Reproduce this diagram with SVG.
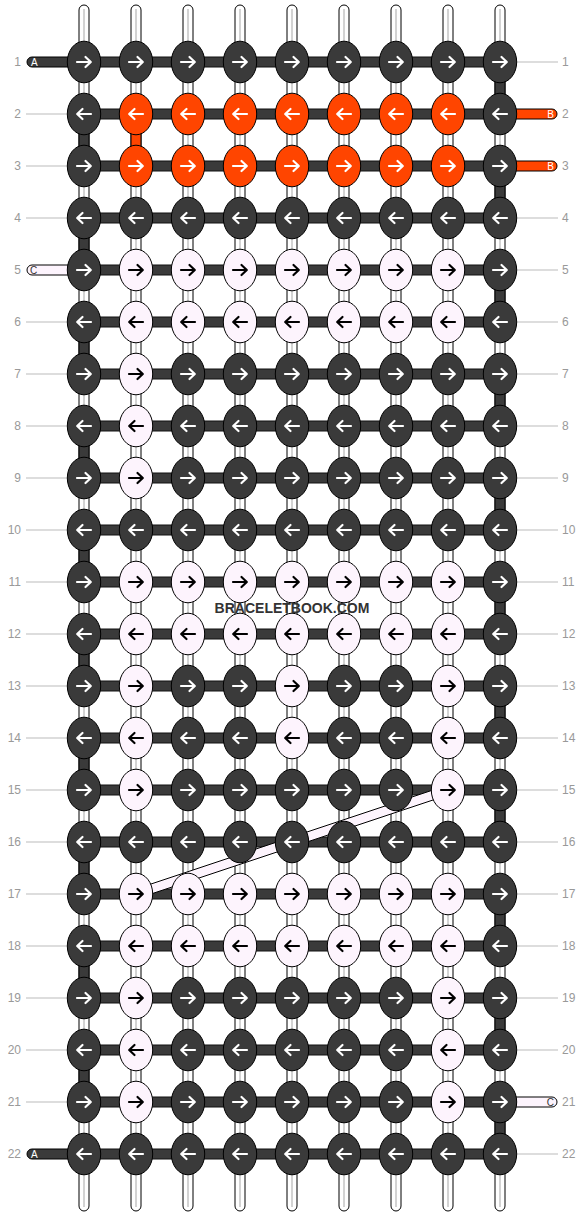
<svg xmlns="http://www.w3.org/2000/svg" xmlns:xlink="http://www.w3.org/1999/xlink" width="584" height="1216" viewBox="0 0 584 1216">
<style>
.vs{fill:#fff;stroke:#000;stroke-width:1}
.vc{stroke:#c4c4c4;stroke-width:1.5}
.hb{fill:#3a3a3a;stroke:#111;stroke-width:1}
.sd{fill:#3a3a3a;stroke:#000;stroke-width:1}
.so{fill:#ff4500;stroke:#000;stroke-width:1}
.sl{fill:#fdf4fd;stroke:#000;stroke-width:1}
.kd{fill:#3a3a3a;stroke:#000;stroke-width:1}
.ko{fill:#ff4500;stroke:#000;stroke-width:1}
.kl{fill:#fdf4fd;stroke:#000;stroke-width:1}
.aw{fill:none;stroke:#fff;stroke-width:2.2;stroke-linecap:round;stroke-linejoin:round}
.ab{fill:none;stroke:#000;stroke-width:2.2;stroke-linecap:round;stroke-linejoin:round}
.num{font-family:"Liberation Sans",Arial,sans-serif;font-size:12px;fill:#999}
.gl{stroke:#bbb;stroke-width:1}
.lab{font-family:"Liberation Sans",Arial,sans-serif;font-size:10px}
.wm{font-family:"Liberation Sans",Arial,sans-serif;font-size:14px;font-weight:bold;fill:#333;text-anchor:middle}
</style>
<defs>
<path id="pR" d="M-7,0H6.5M1.5,-5L6.8,0L1.5,5"/>
<path id="pL" d="M7,0H-6.5M-1.5,-5L-6.8,0L-1.5,5"/>
<g id="dR"><ellipse rx="16.7" ry="20.8" class="kd"/><use href="#pR" class="aw"/></g>
<g id="dL"><ellipse rx="16.7" ry="20.8" class="kd"/><use href="#pL" class="aw"/></g>
<g id="oR"><ellipse rx="16.7" ry="20.8" class="ko"/><use href="#pR" class="aw"/></g>
<g id="oL"><ellipse rx="16.7" ry="20.8" class="ko"/><use href="#pL" class="aw"/></g>
<g id="wR"><ellipse rx="16.7" ry="20.8" class="kl"/><use href="#pR" class="ab"/></g>
<g id="wL"><ellipse rx="16.7" ry="20.8" class="kl"/><use href="#pL" class="ab"/></g>
</defs>
<rect width="584" height="1216" fill="#fff"/>
<g id="labels">
<g class="gl">
<line x1="26" y1="114" x2="67" y2="114"/><line x1="26" y1="166" x2="67" y2="166"/><line x1="26" y1="218" x2="67" y2="218"/>
<line x1="26" y1="322" x2="67" y2="322"/><line x1="26" y1="374" x2="67" y2="374"/><line x1="26" y1="426" x2="67" y2="426"/>
<line x1="26" y1="478" x2="67" y2="478"/><line x1="26" y1="530" x2="67" y2="530"/><line x1="26" y1="582" x2="67" y2="582"/>
<line x1="26" y1="634" x2="67" y2="634"/><line x1="26" y1="686" x2="67" y2="686"/><line x1="26" y1="738" x2="67" y2="738"/>
<line x1="26" y1="790" x2="67" y2="790"/><line x1="26" y1="842" x2="67" y2="842"/><line x1="26" y1="894" x2="67" y2="894"/>
<line x1="26" y1="946" x2="67" y2="946"/><line x1="26" y1="998" x2="67" y2="998"/><line x1="26" y1="1050" x2="67" y2="1050"/>
<line x1="26" y1="1102" x2="67" y2="1102"/>
<line x1="517" y1="62" x2="558" y2="62"/><line x1="517" y1="218" x2="558" y2="218"/><line x1="517" y1="270" x2="558" y2="270"/>
<line x1="517" y1="322" x2="558" y2="322"/><line x1="517" y1="374" x2="558" y2="374"/><line x1="517" y1="426" x2="558" y2="426"/>
<line x1="517" y1="478" x2="558" y2="478"/><line x1="517" y1="530" x2="558" y2="530"/><line x1="517" y1="582" x2="558" y2="582"/>
<line x1="517" y1="634" x2="558" y2="634"/><line x1="517" y1="686" x2="558" y2="686"/><line x1="517" y1="738" x2="558" y2="738"/>
<line x1="517" y1="790" x2="558" y2="790"/><line x1="517" y1="842" x2="558" y2="842"/><line x1="517" y1="894" x2="558" y2="894"/>
<line x1="517" y1="946" x2="558" y2="946"/><line x1="517" y1="998" x2="558" y2="998"/><line x1="517" y1="1050" x2="558" y2="1050"/>
<line x1="517" y1="1154" x2="558" y2="1154"/>
</g>
<g class="num" text-anchor="end">
<text x="21" y="66">1</text><text x="21" y="118">2</text><text x="21" y="170">3</text><text x="21" y="222">4</text>
<text x="21" y="274">5</text><text x="21" y="326">6</text><text x="21" y="378">7</text><text x="21" y="430">8</text>
<text x="21" y="482">9</text><text x="21" y="534">10</text><text x="21" y="586">11</text><text x="21" y="638">12</text>
<text x="21" y="690">13</text><text x="21" y="742">14</text><text x="21" y="794">15</text><text x="21" y="846">16</text>
<text x="21" y="898">17</text><text x="21" y="950">18</text><text x="21" y="1002">19</text><text x="21" y="1054">20</text>
<text x="21" y="1106">21</text><text x="21" y="1158">22</text>
</g>
<g class="num">
<text x="562" y="66">1</text><text x="562" y="118">2</text><text x="562" y="170">3</text><text x="562" y="222">4</text>
<text x="562" y="274">5</text><text x="562" y="326">6</text><text x="562" y="378">7</text><text x="562" y="430">8</text>
<text x="562" y="482">9</text><text x="562" y="534">10</text><text x="562" y="586">11</text><text x="562" y="638">12</text>
<text x="562" y="690">13</text><text x="562" y="742">14</text><text x="562" y="794">15</text><text x="562" y="846">16</text>
<text x="562" y="898">17</text><text x="562" y="950">18</text><text x="562" y="1002">19</text><text x="562" y="1054">20</text>
<text x="562" y="1106">21</text><text x="562" y="1158">22</text>
</g>
</g>
<g id="connectors">
<g id="vertical-strands">
<rect x="79" y="5" width="10" height="1206" rx="5" class="vs"/><line x1="84" y1="9" x2="84" y2="1207" class="vc"/>
<rect x="131" y="5" width="10" height="1206" rx="5" class="vs"/><line x1="136" y1="9" x2="136" y2="1207" class="vc"/>
<rect x="183" y="5" width="10" height="1206" rx="5" class="vs"/><line x1="188" y1="9" x2="188" y2="1207" class="vc"/>
<rect x="235" y="5" width="10" height="1206" rx="5" class="vs"/><line x1="240" y1="9" x2="240" y2="1207" class="vc"/>
<rect x="287" y="5" width="10" height="1206" rx="5" class="vs"/><line x1="292" y1="9" x2="292" y2="1207" class="vc"/>
<rect x="339" y="5" width="10" height="1206" rx="5" class="vs"/><line x1="344" y1="9" x2="344" y2="1207" class="vc"/>
<rect x="391" y="5" width="10" height="1206" rx="5" class="vs"/><line x1="396" y1="9" x2="396" y2="1207" class="vc"/>
<rect x="443" y="5" width="10" height="1206" rx="5" class="vs"/><line x1="448" y1="9" x2="448" y2="1207" class="vc"/>
<rect x="495" y="5" width="10" height="1206" rx="5" class="vs"/><line x1="500" y1="9" x2="500" y2="1207" class="vc"/>
</g>
<g id="turns">
<rect x="79" y="114" width="10" height="52" class="sd"/><rect x="79" y="218" width="10" height="52" class="sd"/>
<rect x="79" y="322" width="10" height="52" class="sd"/><rect x="79" y="426" width="10" height="52" class="sd"/>
<rect x="79" y="530" width="10" height="52" class="sd"/><rect x="79" y="634" width="10" height="52" class="sd"/>
<rect x="79" y="738" width="10" height="52" class="sd"/><rect x="79" y="842" width="10" height="52" class="sd"/>
<rect x="79" y="946" width="10" height="52" class="sd"/><rect x="79" y="1050" width="10" height="52" class="sd"/>
<rect x="495" y="62" width="10" height="52" class="sd"/><rect x="495" y="166" width="10" height="52" class="sd"/>
<rect x="495" y="270" width="10" height="52" class="sd"/><rect x="495" y="374" width="10" height="52" class="sd"/>
<rect x="495" y="478" width="10" height="52" class="sd"/><rect x="495" y="582" width="10" height="52" class="sd"/>
<rect x="495" y="686" width="10" height="52" class="sd"/><rect x="495" y="790" width="10" height="52" class="sd"/>
<rect x="495" y="894" width="10" height="52" class="sd"/><rect x="495" y="998" width="10" height="52" class="sd"/>
<rect x="495" y="1102" width="10" height="52" class="sd"/>
<rect x="131" y="114" width="10" height="52" class="so"/>
</g>
<g id="side-strands">
<rect x="27" y="57" width="50" height="10" rx="5" class="sd"/>
<rect x="27" y="1149" width="50" height="10" rx="5" class="sd"/>
<rect x="27" y="265" width="50" height="10" rx="5" class="sl"/>
<rect x="507" y="109" width="50" height="10" rx="5" class="so"/>
<rect x="507" y="161" width="50" height="10" rx="5" class="so"/>
<rect x="507" y="1097" width="50" height="10" rx="5" class="sl"/>
<text x="31" y="66" class="lab" fill="#fff">A</text>
<text x="31" y="1158" class="lab" fill="#fff">A</text>
<text x="30" y="274" class="lab" fill="#333">C</text>
<text x="554" y="118" class="lab" fill="#fff" text-anchor="end">B</text>
<text x="554" y="170" class="lab" fill="#fff" text-anchor="end">B</text>
<text x="554" y="1106" class="lab" fill="#333" text-anchor="end">C</text>
</g>
<g id="rows">
<rect x="84" y="57" width="416" height="10" class="hb"/><rect x="84" y="109" width="416" height="10" class="hb"/>
<rect x="84" y="161" width="416" height="10" class="hb"/><rect x="84" y="213" width="416" height="10" class="hb"/>
<rect x="84" y="265" width="416" height="10" class="hb"/><rect x="84" y="317" width="416" height="10" class="hb"/>
<rect x="84" y="369" width="416" height="10" class="hb"/><rect x="84" y="421" width="416" height="10" class="hb"/>
<rect x="84" y="473" width="416" height="10" class="hb"/><rect x="84" y="525" width="416" height="10" class="hb"/>
<rect x="84" y="577" width="416" height="10" class="hb"/><rect x="84" y="629" width="416" height="10" class="hb"/>
<rect x="84" y="681" width="416" height="10" class="hb"/><rect x="84" y="733" width="416" height="10" class="hb"/>
<rect x="84" y="785" width="416" height="10" class="hb"/><rect x="84" y="837" width="416" height="10" class="hb"/>
<rect x="84" y="889" width="416" height="10" class="hb"/><rect x="84" y="941" width="416" height="10" class="hb"/>
<rect x="84" y="993" width="416" height="10" class="hb"/><rect x="84" y="1045" width="416" height="10" class="hb"/>
<rect x="84" y="1097" width="416" height="10" class="hb"/><rect x="84" y="1149" width="416" height="10" class="hb"/>
</g>
<polygon id="diagonal" points="137.5,898.5 449.5,794.5 446.5,785.5 134.5,889.5" class="sl"/>
</g>
<g id="knots">
<g id="k1-1"><use href="#dR" x="84" y="62"/></g><g id="k1-2"><use href="#dR" x="136" y="62"/></g><g id="k1-3"><use href="#dR" x="188" y="62"/></g><g id="k1-4"><use href="#dR" x="240" y="62"/></g><g id="k1-5"><use href="#dR" x="292" y="62"/></g><g id="k1-6"><use href="#dR" x="344" y="62"/></g><g id="k1-7"><use href="#dR" x="396" y="62"/></g><g id="k1-8"><use href="#dR" x="448" y="62"/></g><g id="k1-9"><use href="#dR" x="500" y="62"/></g>
<g id="k2-1"><use href="#dL" x="84" y="114"/></g><g id="k2-2"><use href="#oL" x="136" y="114"/></g><g id="k2-3"><use href="#oL" x="188" y="114"/></g><g id="k2-4"><use href="#oL" x="240" y="114"/></g><g id="k2-5"><use href="#oL" x="292" y="114"/></g><g id="k2-6"><use href="#oL" x="344" y="114"/></g><g id="k2-7"><use href="#oL" x="396" y="114"/></g><g id="k2-8"><use href="#oL" x="448" y="114"/></g><g id="k2-9"><use href="#dL" x="500" y="114"/></g>
<g id="k3-1"><use href="#dR" x="84" y="166"/></g><g id="k3-2"><use href="#oR" x="136" y="166"/></g><g id="k3-3"><use href="#oR" x="188" y="166"/></g><g id="k3-4"><use href="#oR" x="240" y="166"/></g><g id="k3-5"><use href="#oR" x="292" y="166"/></g><g id="k3-6"><use href="#oR" x="344" y="166"/></g><g id="k3-7"><use href="#oR" x="396" y="166"/></g><g id="k3-8"><use href="#oR" x="448" y="166"/></g><g id="k3-9"><use href="#dR" x="500" y="166"/></g>
<g id="k4-1"><use href="#dL" x="84" y="218"/></g><g id="k4-2"><use href="#dL" x="136" y="218"/></g><g id="k4-3"><use href="#dL" x="188" y="218"/></g><g id="k4-4"><use href="#dL" x="240" y="218"/></g><g id="k4-5"><use href="#dL" x="292" y="218"/></g><g id="k4-6"><use href="#dL" x="344" y="218"/></g><g id="k4-7"><use href="#dL" x="396" y="218"/></g><g id="k4-8"><use href="#dL" x="448" y="218"/></g><g id="k4-9"><use href="#dL" x="500" y="218"/></g>
<g id="k5-1"><use href="#dR" x="84" y="270"/></g><g id="k5-2"><use href="#wR" x="136" y="270"/></g><g id="k5-3"><use href="#wR" x="188" y="270"/></g><g id="k5-4"><use href="#wR" x="240" y="270"/></g><g id="k5-5"><use href="#wR" x="292" y="270"/></g><g id="k5-6"><use href="#wR" x="344" y="270"/></g><g id="k5-7"><use href="#wR" x="396" y="270"/></g><g id="k5-8"><use href="#wR" x="448" y="270"/></g><g id="k5-9"><use href="#dR" x="500" y="270"/></g>
<g id="k6-1"><use href="#dL" x="84" y="322"/></g><g id="k6-2"><use href="#wL" x="136" y="322"/></g><g id="k6-3"><use href="#wL" x="188" y="322"/></g><g id="k6-4"><use href="#wL" x="240" y="322"/></g><g id="k6-5"><use href="#wL" x="292" y="322"/></g><g id="k6-6"><use href="#wL" x="344" y="322"/></g><g id="k6-7"><use href="#wL" x="396" y="322"/></g><g id="k6-8"><use href="#wL" x="448" y="322"/></g><g id="k6-9"><use href="#dL" x="500" y="322"/></g>
<g id="k7-1"><use href="#dR" x="84" y="374"/></g><g id="k7-2"><use href="#wR" x="136" y="374"/></g><g id="k7-3"><use href="#dR" x="188" y="374"/></g><g id="k7-4"><use href="#dR" x="240" y="374"/></g><g id="k7-5"><use href="#dR" x="292" y="374"/></g><g id="k7-6"><use href="#dR" x="344" y="374"/></g><g id="k7-7"><use href="#dR" x="396" y="374"/></g><g id="k7-8"><use href="#dR" x="448" y="374"/></g><g id="k7-9"><use href="#dR" x="500" y="374"/></g>
<g id="k8-1"><use href="#dL" x="84" y="426"/></g><g id="k8-2"><use href="#wL" x="136" y="426"/></g><g id="k8-3"><use href="#dL" x="188" y="426"/></g><g id="k8-4"><use href="#dL" x="240" y="426"/></g><g id="k8-5"><use href="#dL" x="292" y="426"/></g><g id="k8-6"><use href="#dL" x="344" y="426"/></g><g id="k8-7"><use href="#dL" x="396" y="426"/></g><g id="k8-8"><use href="#dL" x="448" y="426"/></g><g id="k8-9"><use href="#dL" x="500" y="426"/></g>
<g id="k9-1"><use href="#dR" x="84" y="478"/></g><g id="k9-2"><use href="#wR" x="136" y="478"/></g><g id="k9-3"><use href="#dR" x="188" y="478"/></g><g id="k9-4"><use href="#dR" x="240" y="478"/></g><g id="k9-5"><use href="#dR" x="292" y="478"/></g><g id="k9-6"><use href="#dR" x="344" y="478"/></g><g id="k9-7"><use href="#dR" x="396" y="478"/></g><g id="k9-8"><use href="#dR" x="448" y="478"/></g><g id="k9-9"><use href="#dR" x="500" y="478"/></g>
<g id="k10-1"><use href="#dL" x="84" y="530"/></g><g id="k10-2"><use href="#dL" x="136" y="530"/></g><g id="k10-3"><use href="#dL" x="188" y="530"/></g><g id="k10-4"><use href="#dL" x="240" y="530"/></g><g id="k10-5"><use href="#dL" x="292" y="530"/></g><g id="k10-6"><use href="#dL" x="344" y="530"/></g><g id="k10-7"><use href="#dL" x="396" y="530"/></g><g id="k10-8"><use href="#dL" x="448" y="530"/></g><g id="k10-9"><use href="#dL" x="500" y="530"/></g>
<g id="k11-1"><use href="#dR" x="84" y="582"/></g><g id="k11-2"><use href="#wR" x="136" y="582"/></g><g id="k11-3"><use href="#wR" x="188" y="582"/></g><g id="k11-4"><use href="#wR" x="240" y="582"/></g><g id="k11-5"><use href="#wR" x="292" y="582"/></g><g id="k11-6"><use href="#wR" x="344" y="582"/></g><g id="k11-7"><use href="#wR" x="396" y="582"/></g><g id="k11-8"><use href="#wR" x="448" y="582"/></g><g id="k11-9"><use href="#dR" x="500" y="582"/></g>
<g id="k12-1"><use href="#dL" x="84" y="634"/></g><g id="k12-2"><use href="#wL" x="136" y="634"/></g><g id="k12-3"><use href="#wL" x="188" y="634"/></g><g id="k12-4"><use href="#wL" x="240" y="634"/></g><g id="k12-5"><use href="#wL" x="292" y="634"/></g><g id="k12-6"><use href="#wL" x="344" y="634"/></g><g id="k12-7"><use href="#wL" x="396" y="634"/></g><g id="k12-8"><use href="#wL" x="448" y="634"/></g><g id="k12-9"><use href="#dL" x="500" y="634"/></g>
<g id="k13-1"><use href="#dR" x="84" y="686"/></g><g id="k13-2"><use href="#wR" x="136" y="686"/></g><g id="k13-3"><use href="#dR" x="188" y="686"/></g><g id="k13-4"><use href="#dR" x="240" y="686"/></g><g id="k13-5"><use href="#wR" x="292" y="686"/></g><g id="k13-6"><use href="#dR" x="344" y="686"/></g><g id="k13-7"><use href="#dR" x="396" y="686"/></g><g id="k13-8"><use href="#wR" x="448" y="686"/></g><g id="k13-9"><use href="#dR" x="500" y="686"/></g>
<g id="k14-1"><use href="#dL" x="84" y="738"/></g><g id="k14-2"><use href="#wL" x="136" y="738"/></g><g id="k14-3"><use href="#dL" x="188" y="738"/></g><g id="k14-4"><use href="#dL" x="240" y="738"/></g><g id="k14-5"><use href="#wL" x="292" y="738"/></g><g id="k14-6"><use href="#dL" x="344" y="738"/></g><g id="k14-7"><use href="#dL" x="396" y="738"/></g><g id="k14-8"><use href="#wL" x="448" y="738"/></g><g id="k14-9"><use href="#dL" x="500" y="738"/></g>
<g id="k15-1"><use href="#dR" x="84" y="790"/></g><g id="k15-2"><use href="#wR" x="136" y="790"/></g><g id="k15-3"><use href="#dR" x="188" y="790"/></g><g id="k15-4"><use href="#dR" x="240" y="790"/></g><g id="k15-5"><use href="#dR" x="292" y="790"/></g><g id="k15-6"><use href="#dR" x="344" y="790"/></g><g id="k15-7"><use href="#dR" x="396" y="790"/></g><g id="k15-8"><use href="#wR" x="448" y="790"/></g><g id="k15-9"><use href="#dR" x="500" y="790"/></g>
<g id="k16-1"><use href="#dL" x="84" y="842"/></g><g id="k16-2"><use href="#dL" x="136" y="842"/></g><g id="k16-3"><use href="#dL" x="188" y="842"/></g><g id="k16-4"><use href="#dL" x="240" y="842"/></g><g id="k16-5"><use href="#dL" x="292" y="842"/></g><g id="k16-6"><use href="#dL" x="344" y="842"/></g><g id="k16-7"><use href="#dL" x="396" y="842"/></g><g id="k16-8"><use href="#dL" x="448" y="842"/></g><g id="k16-9"><use href="#dL" x="500" y="842"/></g>
<g id="k17-1"><use href="#dR" x="84" y="894"/></g><g id="k17-2"><use href="#wR" x="136" y="894"/></g><g id="k17-3"><use href="#wR" x="188" y="894"/></g><g id="k17-4"><use href="#wR" x="240" y="894"/></g><g id="k17-5"><use href="#wR" x="292" y="894"/></g><g id="k17-6"><use href="#wR" x="344" y="894"/></g><g id="k17-7"><use href="#wR" x="396" y="894"/></g><g id="k17-8"><use href="#wR" x="448" y="894"/></g><g id="k17-9"><use href="#dR" x="500" y="894"/></g>
<g id="k18-1"><use href="#dL" x="84" y="946"/></g><g id="k18-2"><use href="#wL" x="136" y="946"/></g><g id="k18-3"><use href="#wL" x="188" y="946"/></g><g id="k18-4"><use href="#wL" x="240" y="946"/></g><g id="k18-5"><use href="#wL" x="292" y="946"/></g><g id="k18-6"><use href="#wL" x="344" y="946"/></g><g id="k18-7"><use href="#wL" x="396" y="946"/></g><g id="k18-8"><use href="#wL" x="448" y="946"/></g><g id="k18-9"><use href="#dL" x="500" y="946"/></g>
<g id="k19-1"><use href="#dR" x="84" y="998"/></g><g id="k19-2"><use href="#wR" x="136" y="998"/></g><g id="k19-3"><use href="#dR" x="188" y="998"/></g><g id="k19-4"><use href="#dR" x="240" y="998"/></g><g id="k19-5"><use href="#dR" x="292" y="998"/></g><g id="k19-6"><use href="#dR" x="344" y="998"/></g><g id="k19-7"><use href="#dR" x="396" y="998"/></g><g id="k19-8"><use href="#wR" x="448" y="998"/></g><g id="k19-9"><use href="#dR" x="500" y="998"/></g>
<g id="k20-1"><use href="#dL" x="84" y="1050"/></g><g id="k20-2"><use href="#wL" x="136" y="1050"/></g><g id="k20-3"><use href="#dL" x="188" y="1050"/></g><g id="k20-4"><use href="#dL" x="240" y="1050"/></g><g id="k20-5"><use href="#dL" x="292" y="1050"/></g><g id="k20-6"><use href="#dL" x="344" y="1050"/></g><g id="k20-7"><use href="#dL" x="396" y="1050"/></g><g id="k20-8"><use href="#wL" x="448" y="1050"/></g><g id="k20-9"><use href="#dL" x="500" y="1050"/></g>
<g id="k21-1"><use href="#dR" x="84" y="1102"/></g><g id="k21-2"><use href="#wR" x="136" y="1102"/></g><g id="k21-3"><use href="#dR" x="188" y="1102"/></g><g id="k21-4"><use href="#dR" x="240" y="1102"/></g><g id="k21-5"><use href="#dR" x="292" y="1102"/></g><g id="k21-6"><use href="#dR" x="344" y="1102"/></g><g id="k21-7"><use href="#dR" x="396" y="1102"/></g><g id="k21-8"><use href="#wR" x="448" y="1102"/></g><g id="k21-9"><use href="#dR" x="500" y="1102"/></g>
<g id="k22-1"><use href="#dL" x="84" y="1154"/></g><g id="k22-2"><use href="#dL" x="136" y="1154"/></g><g id="k22-3"><use href="#dL" x="188" y="1154"/></g><g id="k22-4"><use href="#dL" x="240" y="1154"/></g><g id="k22-5"><use href="#dL" x="292" y="1154"/></g><g id="k22-6"><use href="#dL" x="344" y="1154"/></g><g id="k22-7"><use href="#dL" x="396" y="1154"/></g><g id="k22-8"><use href="#dL" x="448" y="1154"/></g><g id="k22-9"><use href="#dL" x="500" y="1154"/></g>
</g>
<text x="292" y="613" class="wm">BRACELETBOOK.COM</text>
</svg>
